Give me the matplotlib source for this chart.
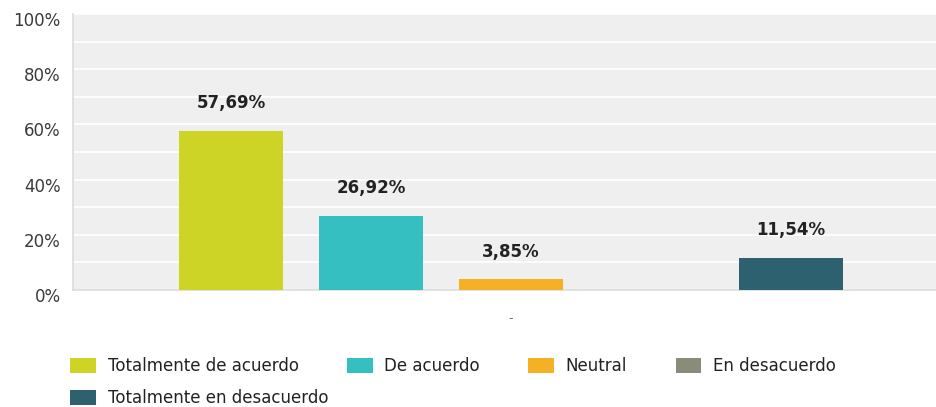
import matplotlib.pyplot as plt
import matplotlib.transforms as mtransforms
from matplotlib.ticker import MultipleLocator

categorias = ['Totalmente de acuerdo', 'De acuerdo', 'Neutral',
              'En desacuerdo', 'Totalmente en desacuerdo']
porcentajes = [57.69, 26.92, 3.85, 0.0, 11.54]
colores = ['#cdd426', '#35bfc0', '#f5b126', '#8a8b7b', '#2e6170']
yticks = [0, 20, 40, 60, 80, 100]

plt.rcParams['font.family'] = ['DejaVu Sans']

fig = plt.figure(figsize=(9.36, 4.07), dpi=100)
ax = fig.add_axes([73 / 936, 117 / 407, 863 / 936, 276 / 407])
ax.set_facecolor('#efefef')

pos = list(range(len(categorias)))
barras = ax.bar(pos, porcentajes, width=0.743, color=colores,
                label=categorias, zorder=3)

# value labels above each bar (skip empty categories)
for x, v in zip(pos, porcentajes):
    if v <= 0:
        continue
    ax.annotate(f'{v:.2f}%'.replace('.', ','), (x, v), xytext=(0, 20),
                textcoords='offset points', ha='center', va='center',
                fontsize=12, fontweight='bold', color='#222222')

ax.set_xlim(-1.129, 5.036)
ax.set_ylim(0, 100)
ax.set_yticks(yticks)
ax.set_yticklabels([f'{t}%' for t in yticks])
ax.yaxis.set_minor_locator(MultipleLocator(10))
ax.grid(axis='y', which='both', color='white', linewidth=1.2, zorder=1)
ax.tick_params(axis='y', which='both', length=0, pad=9,
               labelsize=12, labelcolor='#3a3a3a')
shift = mtransforms.ScaledTranslation(0, -5 / 100, fig.dpi_scale_trans)
for lbl in ax.get_yticklabels():
    lbl.set_transform(lbl.get_transform() + shift)

ax.set_xticks([2])
ax.set_xticklabels(['-'])
ax.tick_params(axis='x', length=0, pad=16, labelsize=9, labelcolor='#666666')

for side in ['top', 'right']:
    ax.spines[side].set_visible(False)
for side in ['left', 'bottom']:
    ax.spines[side].set_color('#dcdcdc')
    ax.spines[side].set_linewidth(1.2)

# legend in two rows, flowing left to right
handles = list(barras)
opts = dict(frameon=False, fontsize=12, handlelength=1.55, handleheight=1.05,
            handletextpad=0.7, columnspacing=2.9, borderpad=0,
            borderaxespad=0, labelcolor='#222222', loc='center left')
fig.legend(handles[:4], categorias[:4], ncol=4,
           bbox_to_anchor=(70 / 936, 1 - 366 / 407), **opts)
fig.legend(handles[4:], categorias[4:], ncol=1,
           bbox_to_anchor=(70 / 936, 1 - 398 / 407), **opts)

fig.savefig('out.png', dpi=100)
